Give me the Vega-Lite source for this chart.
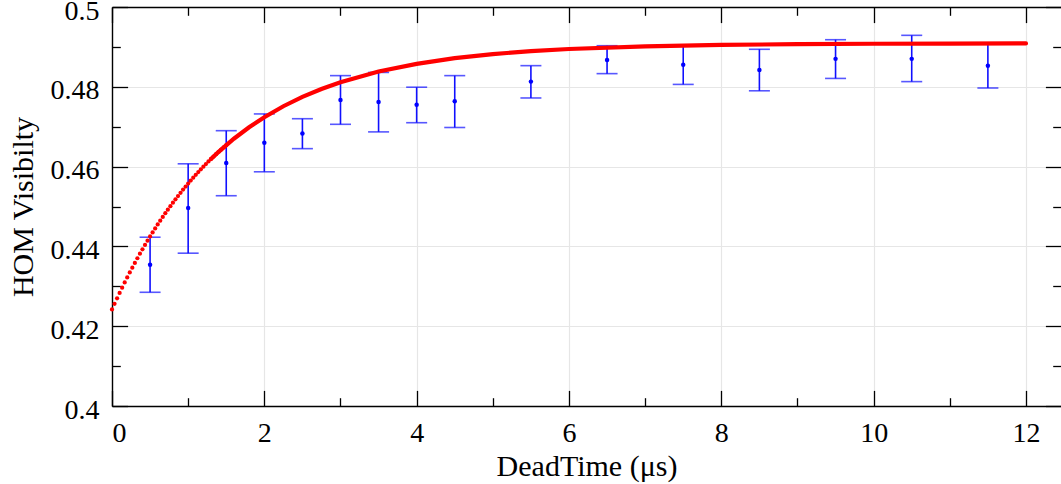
{
  "$schema": "https://vega.github.io/schema/vega-lite/v6.json",
  "width": 949,
  "height": 399,
  "autosize": {"type": "none"},
  "padding": {"left": 112, "top": 7, "right": 0, "bottom": 78},
  "background": "white",
  "config": {
    "view": {"stroke": null},
    "axis": {
      "domainColor": "#000000",
      "domainWidth": 1.4,
      "tickColor": "#000000",
      "tickWidth": 1.3,
      "labelFont": "Liberation Serif",
      "labelFontSize": 28,
      "labelColor": "#000000",
      "titleFont": "Liberation Serif",
      "titleFontSize": 30,
      "titleFontWeight": "normal",
      "titleColor": "#000000",
      "gridColor": "#e6e6e6",
      "gridWidth": 1.2
    }
  },
  "datasets": {
    "pts": [
      {"t": 0.5, "v": 0.4354, "lo": 0.4285, "hi": 0.4423},
      {"t": 1.0, "v": 0.4496, "lo": 0.4383, "hi": 0.4607},
      {"t": 1.5, "v": 0.4609, "lo": 0.4527, "hi": 0.4690},
      {"t": 2.0, "v": 0.4660, "lo": 0.4587, "hi": 0.4732},
      {"t": 2.5, "v": 0.4683, "lo": 0.4645, "hi": 0.4720},
      {"t": 3.0, "v": 0.4767, "lo": 0.4706, "hi": 0.4828},
      {"t": 3.5, "v": 0.4762, "lo": 0.4687, "hi": 0.4836},
      {"t": 4.0, "v": 0.4755, "lo": 0.4710, "hi": 0.4799},
      {"t": 4.5, "v": 0.4764, "lo": 0.4698, "hi": 0.4828},
      {"t": 5.5, "v": 0.4813, "lo": 0.4772, "hi": 0.4853},
      {"t": 6.5, "v": 0.4867, "lo": 0.4833, "hi": 0.4903},
      {"t": 7.5, "v": 0.4855, "lo": 0.4806, "hi": 0.4905},
      {"t": 8.5, "v": 0.4842, "lo": 0.4790, "hi": 0.4894},
      {"t": 9.5, "v": 0.4870, "lo": 0.4821, "hi": 0.4918},
      {"t": 10.5, "v": 0.4870, "lo": 0.4813, "hi": 0.4929},
      {"t": 11.5, "v": 0.4853, "lo": 0.4797, "hi": 0.4909}
    ],
    "dots": [
      {"t": 0.0, "f": 0.42420}, {"t": 0.0333, "f": 0.42561}, {"t": 0.0667, "f": 0.42699},
      {"t": 0.1, "f": 0.42834}, {"t": 0.1333, "f": 0.42966}, {"t": 0.1667, "f": 0.43096},
      {"t": 0.2, "f": 0.43222}, {"t": 0.2333, "f": 0.43346}, {"t": 0.2667, "f": 0.43468},
      {"t": 0.3, "f": 0.43587}, {"t": 0.3333, "f": 0.43703}, {"t": 0.3667, "f": 0.43817},
      {"t": 0.4, "f": 0.43928}, {"t": 0.4333, "f": 0.44037}, {"t": 0.4667, "f": 0.44144},
      {"t": 0.5, "f": 0.44249}, {"t": 0.5333, "f": 0.44351}, {"t": 0.5667, "f": 0.44451},
      {"t": 0.6, "f": 0.44549}, {"t": 0.6333, "f": 0.44645}, {"t": 0.6667, "f": 0.44739},
      {"t": 0.7, "f": 0.44831}, {"t": 0.7333, "f": 0.44921}, {"t": 0.7667, "f": 0.45009},
      {"t": 0.8, "f": 0.45095}, {"t": 0.8333, "f": 0.45180}, {"t": 0.8667, "f": 0.45263},
      {"t": 0.9, "f": 0.45344}, {"t": 0.9333, "f": 0.45423}, {"t": 0.9667, "f": 0.45501},
      {"t": 1.0, "f": 0.45576}, {"t": 1.0333, "f": 0.45650}, {"t": 1.0667, "f": 0.45723},
      {"t": 1.1, "f": 0.45794}, {"t": 1.1333, "f": 0.45864}, {"t": 1.1667, "f": 0.45932},
      {"t": 1.2, "f": 0.45999}, {"t": 1.2333, "f": 0.46064}, {"t": 1.2667, "f": 0.46128},
      {"t": 1.3, "f": 0.46191}, {"t": 1.3333, "f": 0.46252}, {"t": 1.3667, "f": 0.46312},
      {"t": 1.4, "f": 0.46371}, {"t": 1.4333, "f": 0.46428}, {"t": 1.4667, "f": 0.46485},
      {"t": 1.5, "f": 0.46540}
    ],
    "curve": [
      {"t": 1.3, "f": 0.46191}, {"t": 1.4, "f": 0.46371}, {"t": 1.6, "f": 0.46698},
      {"t": 1.8, "f": 0.46986}, {"t": 2.0, "f": 0.47239}, {"t": 2.25, "f": 0.47513},
      {"t": 2.5, "f": 0.47747}, {"t": 2.75, "f": 0.47945}, {"t": 3.0, "f": 0.48115},
      {"t": 3.5, "f": 0.48382}, {"t": 4.0, "f": 0.48576}, {"t": 4.5, "f": 0.48717},
      {"t": 5.0, "f": 0.48820}, {"t": 5.5, "f": 0.48894}, {"t": 6.0, "f": 0.48947},
      {"t": 7.0, "f": 0.49015}, {"t": 8.0, "f": 0.49050}, {"t": 9.0, "f": 0.49069},
      {"t": 10.0, "f": 0.49079}, {"t": 11.0, "f": 0.49084}, {"t": 12.0, "f": 0.49087}
    ]
  },
  "resolve": {"axis": {"x": "independent", "y": "independent"}},
  "layer": [
    {
      "data": {"name": "pts"},
      "mark": {"type": "rule", "color": "#1010ff", "strokeWidth": 1.6},
      "encoding": {
        "x": {"field": "t", "type": "quantitative",
              "scale": {"domain": [0, 12.46], "nice": false, "zero": false},
              "axis": {"orient": "bottom", "values": [0, 2, 4, 6, 8, 10, 12], "format": "~g",
                       "grid": true, "tickSize": -15.6, "labelPadding": 29,
                       "title": "DeadTime (μs)", "titlePadding": 4}},
        "y": {"field": "lo", "type": "quantitative",
              "scale": {"domain": [0.4, 0.5], "nice": false, "zero": false},
              "axis": {"orient": "left", "values": [0.4, 0.42, 0.44, 0.46, 0.48, 0.5], "format": ".2~f",
                       "grid": true, "tickSize": -15.6, "labelPadding": 28.6,
                       "labelBaseline": "alphabetic", "labelOffset": 12,
                       "title": "HOM Visibilty", "titlePadding": 12}},
        "y2": {"field": "hi"}
      }
    },
    {
      "data": {"name": "pts"},
      "mark": {"type": "tick", "orient": "horizontal", "color": "#1010ff", "size": 21, "thickness": 1.6},
      "encoding": {
        "x": {"field": "t", "type": "quantitative",
              "scale": {"domain": [0, 12.46], "nice": false, "zero": false},
              "axis": {"orient": "top", "values": [0, 2, 4, 6, 8, 10, 12], "grid": false,
                       "tickSize": -15.6, "labels": false, "title": null, "domain": true}},
        "y": {"field": "hi", "type": "quantitative",
              "scale": {"domain": [0.4, 0.5], "nice": false, "zero": false},
              "axis": {"orient": "right", "values": [0.4, 0.42, 0.44, 0.46, 0.48, 0.5], "grid": false,
                       "tickSize": -15.6, "labels": false, "title": null, "domain": false}}
      }
    },
    {
      "data": {"name": "pts"},
      "mark": {"type": "tick", "orient": "horizontal", "color": "#1010ff", "size": 21, "thickness": 1.6},
      "encoding": {
        "x": {"field": "t", "type": "quantitative",
              "scale": {"domain": [0, 12.46], "nice": false, "zero": false},
              "axis": {"orient": "bottom", "values": [1, 3, 5, 7, 9, 11], "grid": false,
                       "tickSize": -8.3, "labels": false, "title": null, "domain": false}},
        "y": {"field": "lo", "type": "quantitative",
              "scale": {"domain": [0.4, 0.5], "nice": false, "zero": false},
              "axis": {"orient": "left", "values": [0.41, 0.43, 0.45, 0.47, 0.49], "grid": false,
                       "tickSize": -8.3, "labels": false, "title": null, "domain": false}}
      }
    },
    {
      "data": {"name": "curve"},
      "mark": {"type": "line", "color": "#ff0000", "strokeWidth": 4.2, "strokeCap": "round"},
      "encoding": {
        "x": {"field": "t", "type": "quantitative",
              "scale": {"domain": [0, 12.46], "nice": false, "zero": false},
              "axis": {"orient": "top", "values": [1, 3, 5, 7, 9, 11], "grid": false,
                       "tickSize": -8.3, "labels": false, "title": null, "domain": false}},
        "y": {"field": "f", "type": "quantitative",
              "scale": {"domain": [0.4, 0.5], "nice": false, "zero": false},
              "axis": {"orient": "right", "values": [0.41, 0.43, 0.45, 0.47, 0.49], "grid": false,
                       "tickSize": -8.3, "labels": false, "title": null, "domain": false}}
      }
    },
    {
      "data": {"name": "dots"},
      "mark": {"type": "circle", "color": "#ff0000", "size": 18, "opacity": 1},
      "encoding": {
        "x": {"field": "t", "type": "quantitative",
              "scale": {"domain": [0, 12.46], "nice": false, "zero": false}, "axis": null},
        "y": {"field": "f", "type": "quantitative",
              "scale": {"domain": [0.4, 0.5], "nice": false, "zero": false}, "axis": null}
      }
    },
    {
      "data": {"name": "pts"},
      "mark": {"type": "circle", "color": "#0000ff", "size": 20, "opacity": 1},
      "encoding": {
        "x": {"field": "t", "type": "quantitative",
              "scale": {"domain": [0, 12.46], "nice": false, "zero": false}, "axis": null},
        "y": {"field": "v", "type": "quantitative",
              "scale": {"domain": [0.4, 0.5], "nice": false, "zero": false}, "axis": null}
      }
    }
  ]
}
